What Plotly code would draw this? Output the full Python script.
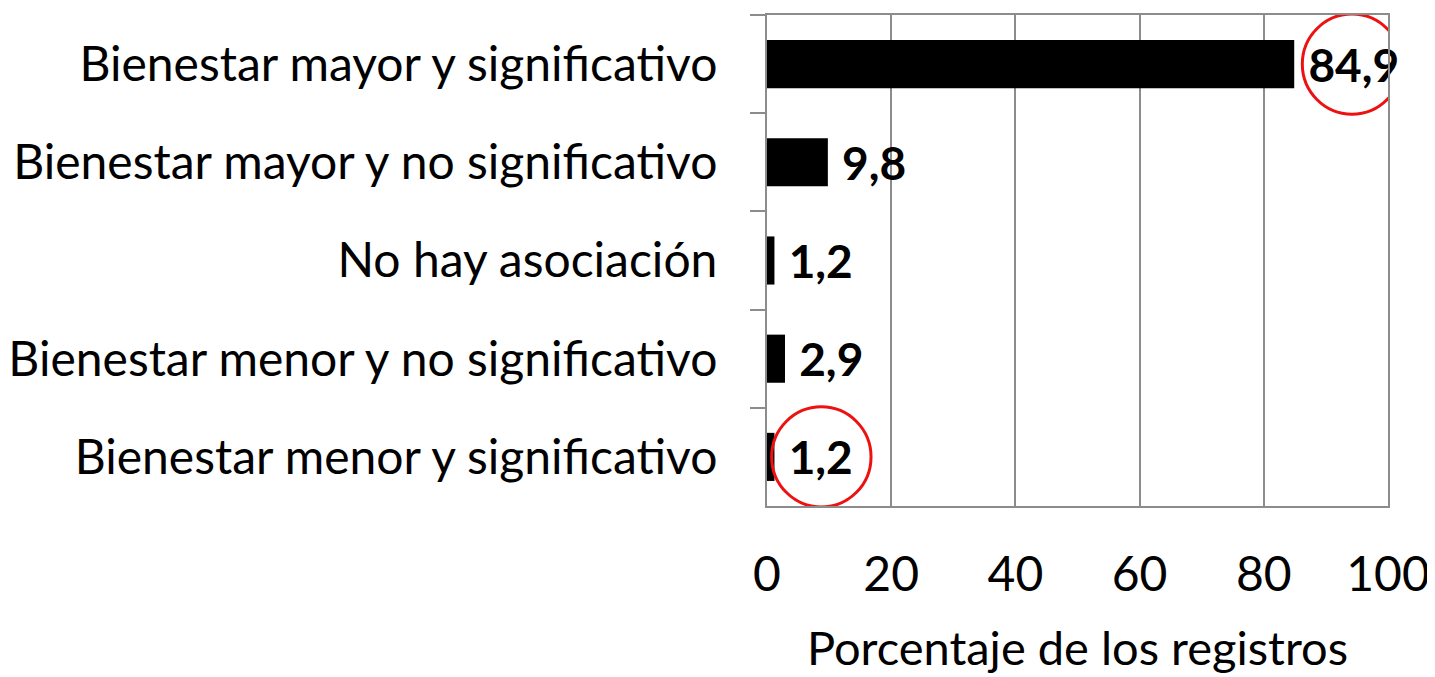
import plotly.graph_objects as go

categorias = [
    "Bienestar mayor y significativo",
    "Bienestar mayor y no significativo",
    "No hay asociación",
    "Bienestar menor y no significativo",
    "Bienestar menor y significativo",
]
porcentajes = [84.9, 9.8, 1.2, 2.9, 1.2]
marcados = [0, 4]  # indices of the circled values

FONT = "Lato"
SIZE = 48
GRIS = "#8c8c8c"

fig = go.Figure(go.Bar(
    x=porcentajes,
    y=categorias,
    orientation="h",
    marker=dict(color="black", line=dict(width=0)),
    text=[(" " + f"{v:.1f}".replace(".", ",")) for v in porcentajes],
    textposition="outside",
    textfont=dict(family=FONT, size=46, color="black", weight="bold"),
    constraintext="none",
    cliponaxis=False,
    width=0.49,
))

# red circles around highlighted values (centred on the value label)
for i in marcados:
    v = porcentajes[i]
    etiqueta = f"{v:.1f}"
    cx = v + 2.3 + 1.75 * len(etiqueta)
    fig.add_shape(
        type="circle", xref="x", yref="y",
        x0=cx - 8.0, x1=cx + 8.0, y0=i - 0.51, y1=i + 0.51,
        line=dict(color="#ee1111", width=3),
    )

# page body has an 8px margin, so the figure is a bit smaller than the window
fig.update_layout(
    width=1427, height=669,
    margin=dict(l=759, r=47, t=7, b=171),
    plot_bgcolor="white", paper_bgcolor="white",
    font=dict(family=FONT, size=SIZE, color="black"),
    showlegend=False,
    xaxis=dict(
        range=[0, 100], dtick=20, tick0=0,
        showgrid=True, gridcolor=GRIS, gridwidth=1.5,
        showline=True, linecolor=GRIS, linewidth=2, mirror=True,
        ticks="", ticklabelstandoff=25,
        zeroline=False, automargin=False,
        title=dict(text="Porcentaje de los registros", standoff=33,
                   font=dict(size=47)),
    ),
    yaxis=dict(
        categoryorder="array", categoryarray=categorias,
        range=[4.5, -0.5],
        showgrid=False, automargin=False,
        showline=True, linecolor=GRIS, linewidth=2, mirror=True,
        ticks="outside", ticklen=15, tickcolor=GRIS, tickwidth=2,
        tickson="boundaries",
        ticklabelstandoff=38,
    ),
)

fig.write_html("out.html")
